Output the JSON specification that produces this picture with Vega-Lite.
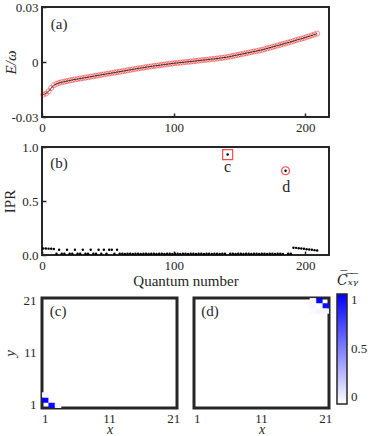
{
  "$schema": "https://vega.github.io/schema/vega-lite/v6.json",
  "padding": 0,
  "background": "white",
  "config": {
    "font": "Liberation Serif",
    "view": {"stroke": "#262626", "strokeWidth": 2, "fill": "white"},
    "text": {"fontWeight": "normal", "font": "Liberation Serif"},
    "axis": {
      "labelFont": "Liberation Serif", "labelFontSize": 13, "labelColor": "#262626",
      "titleFont": "Liberation Serif", "titleFontSize": 15, "titleFontWeight": "normal", "titleColor": "#262626",
      "domain": false, "grid": false, "tickColor": "#262626", "tickSize": -4, "tickWidth": 1.5,
      "labelPadding": 8, "labelFlush": false, "labelOverlap": false, "labelBound": false
    },
    "legend": {"labelFont": "Liberation Serif", "labelFontSize": 13, "labelColor": "#262626"}
  },
  "datasets": {
    "states": [
      {"q":1,"E":-0.0178,"IPR":0.060},{"q":3,"E":-0.0172,"IPR":0.060},{"q":5,"E":-0.0160,"IPR":0.059},
      {"q":7,"E":-0.0142,"IPR":0.057},{"q":9,"E":-0.0127,"IPR":0.055},{"q":11,"E":-0.0119,"IPR":0.012},
      {"q":13,"E":-0.0114,"IPR":0.048},{"q":15,"E":-0.0110,"IPR":0.012},{"q":17,"E":-0.0107,"IPR":0.011},
      {"q":19,"E":-0.0104,"IPR":0.048},{"q":21,"E":-0.0101,"IPR":0.012},{"q":23,"E":-0.0098,"IPR":0.011},
      {"q":25,"E":-0.0095,"IPR":0.048},{"q":27,"E":-0.0093,"IPR":0.012},{"q":29,"E":-0.0090,"IPR":0.011},
      {"q":31,"E":-0.0088,"IPR":0.048},{"q":33,"E":-0.0085,"IPR":0.012},{"q":35,"E":-0.0083,"IPR":0.011},
      {"q":37,"E":-0.0080,"IPR":0.048},{"q":39,"E":-0.0078,"IPR":0.012},{"q":41,"E":-0.0075,"IPR":0.011},
      {"q":43,"E":-0.0073,"IPR":0.048},{"q":45,"E":-0.0070,"IPR":0.012},{"q":47,"E":-0.0068,"IPR":0.048},
      {"q":49,"E":-0.0065,"IPR":0.011},{"q":51,"E":-0.0063,"IPR":0.048},{"q":53,"E":-0.0060,"IPR":0.048},
      {"q":55,"E":-0.0058,"IPR":0.012},{"q":57,"E":-0.0055,"IPR":0.048},{"q":59,"E":-0.0053,"IPR":0.011},
      {"q":61,"E":-0.0050,"IPR":0.012},{"q":63,"E":-0.0048,"IPR":0.010},{"q":65,"E":-0.0045,"IPR":0.011},
      {"q":67,"E":-0.0043,"IPR":0.012},{"q":69,"E":-0.0040,"IPR":0.010},{"q":71,"E":-0.0038,"IPR":0.011},
      {"q":73,"E":-0.0035,"IPR":0.012},{"q":75,"E":-0.0033,"IPR":0.010},{"q":77,"E":-0.0031,"IPR":0.011},
      {"q":79,"E":-0.0028,"IPR":0.012},{"q":81,"E":-0.0026,"IPR":0.010},{"q":83,"E":-0.0024,"IPR":0.011},
      {"q":85,"E":-0.0022,"IPR":0.012},{"q":87,"E":-0.0020,"IPR":0.010},{"q":89,"E":-0.0018,"IPR":0.011},
      {"q":91,"E":-0.0016,"IPR":0.012},{"q":93,"E":-0.0014,"IPR":0.010},{"q":95,"E":-0.0012,"IPR":0.011},
      {"q":97,"E":-0.0010,"IPR":0.012},{"q":99,"E":-0.0008,"IPR":0.010},{"q":101,"E":-0.0006,"IPR":0.011},
      {"q":103,"E":-0.0005,"IPR":0.012},{"q":105,"E":-0.0003,"IPR":0.010},{"q":107,"E":-0.0002,"IPR":0.011},
      {"q":109,"E":0.0000,"IPR":0.012},{"q":111,"E":0.0001,"IPR":0.010},{"q":113,"E":0.0003,"IPR":0.011},
      {"q":115,"E":0.0004,"IPR":0.012},{"q":117,"E":0.0006,"IPR":0.010},{"q":119,"E":0.0008,"IPR":0.011},
      {"q":121,"E":0.0009,"IPR":0.012},{"q":123,"E":0.0011,"IPR":0.010},{"q":125,"E":0.0012,"IPR":0.011},
      {"q":127,"E":0.0014,"IPR":0.012},{"q":129,"E":0.0016,"IPR":0.010},{"q":131,"E":0.0017,"IPR":0.011},
      {"q":133,"E":0.0019,"IPR":0.012},{"q":135,"E":0.0021,"IPR":0.010},{"q":137,"E":0.0023,"IPR":0.011},
      {"q":139,"E":0.0025,"IPR":0.012},{"q":141,"E":0.0027,"IPR":0.930,"state":"c"},{"q":143,"E":0.0030,"IPR":0.011},
      {"q":145,"E":0.0033,"IPR":0.012},{"q":147,"E":0.0036,"IPR":0.010},{"q":149,"E":0.0039,"IPR":0.011},
      {"q":151,"E":0.0042,"IPR":0.012},{"q":153,"E":0.0045,"IPR":0.010},{"q":155,"E":0.0048,"IPR":0.011},
      {"q":157,"E":0.0051,"IPR":0.012},{"q":159,"E":0.0054,"IPR":0.010},{"q":161,"E":0.0057,"IPR":0.011},
      {"q":163,"E":0.0060,"IPR":0.012},{"q":165,"E":0.0063,"IPR":0.010},{"q":167,"E":0.0066,"IPR":0.011},
      {"q":169,"E":0.0070,"IPR":0.012},{"q":171,"E":0.0074,"IPR":0.010},{"q":173,"E":0.0078,"IPR":0.011},
      {"q":175,"E":0.0082,"IPR":0.012},{"q":177,"E":0.0086,"IPR":0.010},{"q":179,"E":0.0090,"IPR":0.011},
      {"q":181,"E":0.0094,"IPR":0.012},{"q":183,"E":0.0098,"IPR":0.010},{"q":185,"E":0.0102,"IPR":0.780,"state":"d"},
      {"q":187,"E":0.0106,"IPR":0.011},{"q":189,"E":0.0110,"IPR":0.012},{"q":191,"E":0.0114,"IPR":0.068},
      {"q":193,"E":0.0119,"IPR":0.066},{"q":195,"E":0.0123,"IPR":0.063},{"q":197,"E":0.0127,"IPR":0.060},
      {"q":199,"E":0.0131,"IPR":0.057},{"q":201,"E":0.0136,"IPR":0.054},{"q":203,"E":0.0140,"IPR":0.051},
      {"q":205,"E":0.0145,"IPR":0.048},{"q":207,"E":0.0150,"IPR":0.045},{"q":209,"E":0.0155,"IPR":0.042}
    ],
    "cellsC": [
      {"x":1,"y":2,"C":1.0},{"x":2,"y":1,"C":0.96},{"x":1,"y":3,"C":0.04},{"x":3,"y":1,"C":0.03}
    ],
    "cellsD": [
      {"x":20,"y":21,"C":1.0},{"x":21,"y":20,"C":0.95},{"x":19,"y":21,"C":0.04},{"x":19,"y":20,"C":0.03},
      {"x":19,"y":19,"C":0.02},{"x":20,"y":19,"C":0.04},{"x":21,"y":19,"C":0.04}
    ]
  },
  "spacing": 3,
  "bounds": "full",
  "vconcat": [
    {
      "spacing": 30,
      "bounds": "flush",
      "vconcat": [
        {
          "width": 287, "height": 110,
          "layer": [
            {
              "data": {"name": "states"},
              "mark": {"type": "point", "filled": false, "color": "#ff0000", "size": 26, "strokeWidth": 0.9, "opacity": 0.5},
              "encoding": {
                "x": {"field": "q", "type": "quantitative", "scale": {"domain": [0, 218], "nice": false},
                      "axis": {"values": [0, 100, 200], "title": null}},
                "y": {"field": "E", "type": "quantitative", "scale": {"domain": [-0.03, 0.03], "nice": false},
                      "axis": {"values": [-0.03, 0, 0.03], "title": "E/ω", "titleFontStyle": "italic",
                               "titleX": -32, "titleY": 55, "titleAngle": 270, "titleAlign": "center", "titleBaseline": "middle",
                               "labelExpr": "datum.value == 0 ? '0' : (datum.value < 0 ? '-' : '') + format(abs(datum.value), '.2f')"}}
              }
            },
            {
              "data": {"name": "states"},
              "mark": {"type": "line", "color": "black", "strokeWidth": 0.8},
              "encoding": {
                "x": {"field": "q", "type": "quantitative"},
                "y": {"field": "E", "type": "quantitative"}
              }
            },
            {
              "data": {"values": [{}]},
              "mark": {"type": "text", "fontSize": 15, "fontWeight": "normal", "color": "#262626"},
              "encoding": {"x": {"datum": 13}, "y": {"datum": 0.021}, "text": {"value": "(a)"}}
            }
          ]
        },
        {
          "width": 287, "height": 108,
          "layer": [
            {
              "data": {"name": "states"},
              "mark": {"type": "circle", "color": "black", "size": 6, "opacity": 1},
              "encoding": {
                "x": {"field": "q", "type": "quantitative", "scale": {"domain": [0, 218], "nice": false},
                      "axis": {"values": [0, 100, 200], "title": "Quantum number", "titleY": 25, "titleBaseline": "middle"}},
                "y": {"field": "IPR", "type": "quantitative", "scale": {"domain": [0, 1], "nice": false},
                      "axis": {"values": [0, 0.5, 1], "title": "IPR",
                               "titleX": -33, "titleY": 54, "titleAngle": 270, "titleAlign": "center", "titleBaseline": "middle"}}
              }
            },
            {
              "data": {"name": "states"},
              "transform": [{"filter": "datum.state == 'c'"}],
              "mark": {"type": "point", "shape": "square", "filled": false, "color": "#ff0000", "size": 100, "strokeWidth": 1.2},
              "encoding": {
                "x": {"field": "q", "type": "quantitative"},
                "y": {"field": "IPR", "type": "quantitative"}
              }
            },
            {
              "data": {"name": "states"},
              "transform": [{"filter": "datum.state == 'd'"}],
              "mark": {"type": "point", "shape": "circle", "filled": false, "color": "#ff0000", "size": 64, "strokeWidth": 1.2},
              "encoding": {
                "x": {"field": "q", "type": "quantitative"},
                "y": {"field": "IPR", "type": "quantitative"}
              }
            },
            {
              "data": {"values": [{}]},
              "mark": {"type": "text", "fontSize": 16, "fontWeight": "normal", "color": "#262626"},
              "encoding": {"x": {"datum": 141}, "y": {"datum": 0.815}, "text": {"value": "c"}}
            },
            {
              "data": {"values": [{}]},
              "mark": {"type": "text", "fontSize": 16, "fontWeight": "normal", "color": "#262626"},
              "encoding": {"x": {"datum": 185.5}, "y": {"datum": 0.63}, "text": {"value": "d"}}
            },
            {
              "data": {"values": [{}]},
              "mark": {"type": "text", "fontSize": 15, "fontWeight": "normal", "color": "#262626"},
              "encoding": {"x": {"datum": 13}, "y": {"datum": 0.85}, "text": {"value": "(b)"}}
            }
          ]
        }
      ]
    },
    {
      "spacing": 17,
      "bounds": "flush",
      "hconcat": [
        {
          "width": 135, "height": 110,
          "view": {"stroke": "#262626", "strokeWidth": 3, "fill": "white"},
          "layer": [
            {
              "data": {"name": "cellsC"},
              "mark": {"type": "rect"},
              "encoding": {
                "x": {"field": "x", "type": "ordinal",
                      "scale": {"domain": [1,2,3,4,5,6,7,8,9,10,11,12,13,14,15,16,17,18,19,20,21], "paddingInner": 0, "paddingOuter": 0},
                      "axis": {"values": [1, 11, 21], "labelAngle": 0, "ticks": false, "labelPadding": 4, "title": "x", "titleFontStyle": "italic", "titleFontSize": 14, "titleY": 25, "titleBaseline": "alphabetic"}},
                "y": {"field": "y", "type": "ordinal",
                      "scale": {"domain": [21,20,19,18,17,16,15,14,13,12,11,10,9,8,7,6,5,4,3,2,1], "paddingInner": 0, "paddingOuter": 0},
                      "axis": {"values": [1, 11, 21], "ticks": false, "labelPadding": 6, "title": "y", "titleFontStyle": "italic",
                               "titleX": -33, "titleY": 55, "titleAngle": 270, "titleAlign": "center", "titleBaseline": "middle"}},
                "color": {"field": "C", "type": "quantitative", "scale": {"domain": [0, 1], "range": ["#ffffff", "#0000ff"], "interpolate": "rgb"}}
              }
            },
            {
              "data": {"values": [{}]},
              "mark": {"type": "text", "fontSize": 15, "fontWeight": "normal", "color": "#262626"},
              "encoding": {"x": {"datum": 3, "type": "ordinal"}, "y": {"datum": 19, "type": "ordinal"}, "text": {"value": "(c)"}}
            }
          ]
        },
        {
          "width": 135, "height": 110,
          "view": {"stroke": "#262626", "strokeWidth": 3, "fill": "white"},
          "layer": [
            {
              "data": {"name": "cellsD"},
              "mark": {"type": "rect"},
              "encoding": {
                "x": {"field": "x", "type": "ordinal",
                      "scale": {"domain": [1,2,3,4,5,6,7,8,9,10,11,12,13,14,15,16,17,18,19,20,21], "paddingInner": 0, "paddingOuter": 0},
                      "axis": {"values": [1, 11, 21], "labelAngle": 0, "ticks": false, "labelPadding": 4, "title": "x", "titleFontStyle": "italic", "titleFontSize": 14, "titleY": 25, "titleBaseline": "alphabetic"}},
                "y": {"field": "y", "type": "ordinal",
                      "scale": {"domain": [21,20,19,18,17,16,15,14,13,12,11,10,9,8,7,6,5,4,3,2,1], "paddingInner": 0, "paddingOuter": 0},
                      "axis": null},
                "color": {"field": "C", "type": "quantitative", "scale": {"domain": [0, 1], "range": ["#ffffff", "#0000ff"], "interpolate": "rgb"},
                          "legend": {"orient": "none", "legendX": 295, "legendY": 267, "direction": "vertical",
                                     "gradientLength": 110, "gradientThickness": 10, "values": [0, 0.5, 1], "format": "~g",
                                     "title": "C̅ₓ̅ᵧ̅", "titleFont": "DejaVu Serif", "titleFontStyle": "italic", "titleFontWeight": "normal",
                                     "titleFontSize": 14, "titleColor": "#262626", "titlePadding": 6,
                                     "gradientStrokeColor": "#262626", "gradientStrokeWidth": 1.5, "labelOffset": 4}}
              }
            },
            {
              "data": {"values": [{}]},
              "mark": {"type": "text", "fontSize": 15, "fontWeight": "normal", "color": "#262626"},
              "encoding": {"x": {"datum": 3, "type": "ordinal"}, "y": {"datum": 19, "type": "ordinal"}, "text": {"value": "(d)"}}
            }
          ]
        }
      ]
    }
  ]
}
